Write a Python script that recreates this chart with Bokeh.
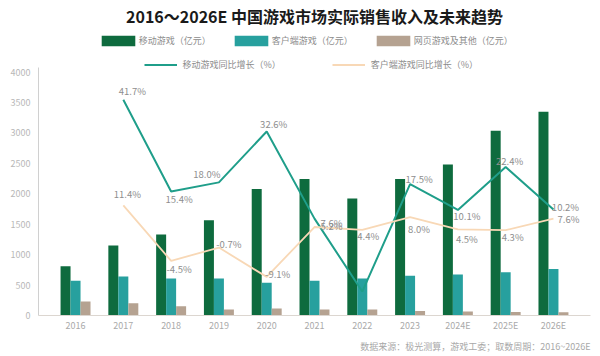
from bokeh.plotting import figure
from bokeh.models import (ColumnDataSource, FactorRange, Range1d, FixedTicker,
                          Legend, LegendItem, Title)
from bokeh.transform import dodge
from bokeh.core.properties import value
from bokeh.embed import file_html
from bokeh.resources import INLINE

# ---- data ----
years = ["2016", "2017", "2018", "2019", "2020", "2021", "2022", "2023", "2024E", "2025E", "2026E"]
mobile_rev = [810, 1150, 1330, 1565, 2080, 2245, 1925, 2245, 2480, 3035, 3350]
client_rev = [570, 640, 607, 607, 540, 570, 607, 655, 675, 712, 765]
web_rev = [230, 202, 153, 100, 115, 100, 100, 72, 66, 58, 52]

growth_years = years[1:]
mobile_growth = [41.7, 15.4, 18.0, 32.6, 7.6, -13.3, 17.5, 10.1, 22.4, 10.2]
client_growth = [11.4, -4.5, -0.7, -9.1, 5.2, 4.4, 8.0, 4.5, 4.3, 7.6]
mobile_growth_text = ["41.7%", "15.4%", "18.0%", "32.6%", "7.6%", "", "17.5%", "10.1%", "22.4%", "10.2%"]
client_growth_text = ["11.4%", "-4.5%", "-0.7%", "-9.1%", "5.2%", "4.4%", "8.0%", "4.5%", "4.3%", "7.6%"]
y_ticks = [0, 500, 1000, 1500, 2000, 2500, 3000, 3500, 4000]

# ---- label placement (style, screen px) ----
mobile_dx = [9, 8, -12, 7, 17, 0, 9, 9, 4, 12]
mobile_dy = [-9, 8, -8, -7, 4, 0, -5, 6, -6, -3]
client_dx = [4, 8, 10, 11, 17, 6, 9, 9, 7, 15]
client_dy = [-11, 8, -4, -3, -1, 6, 12, 10, 7, 0]

FONT = "Noto Sans CJK SC"
C_MOBILE = "#0e6b3e"
C_CLIENT = "#27a09e"
C_WEB = "#b5a291"
C_MLINE = "#1f9e8a"
C_CLINE = "#f8d8b6"

bar_src = ColumnDataSource(dict(year=years, mobile=mobile_rev, client=client_rev, web=web_rev))
m_src = ColumnDataSource(dict(year=growth_years, g=mobile_growth, t=mobile_growth_text,
                              dx=mobile_dx, dy=mobile_dy))
c_src = ColumnDataSource(dict(year=growth_years, g=client_growth, t=client_growth_text,
                              dx=client_dx, dy=client_dy))

frame_top = 28
frame_bottom = 316
px_per_unit = (316.5 - 72.3) / 4000.0
y_end = (frame_bottom - frame_top) / px_per_unit
zero_pct = 245.4
px_per_pct = 3.5

p = figure(width=600, height=356, output_backend="svg", toolbar_location=None,
           x_range=FactorRange(factors=years, range_padding=0.275, range_padding_units="absolute"),
           y_range=Range1d(0, y_end),
           min_border_left=38, min_border_right=10, min_border_top=frame_top,
           min_border_bottom=356 - frame_bottom)
p.extra_y_ranges = {"pct": Range1d(-(frame_bottom - zero_pct) / px_per_pct,
                                   (zero_pct - frame_top) / px_per_pct)}

p.title.text = "2016～2026E 中国游戏市场实际销售收入及未来趋势"
p.title.align = "center"
p.title.text_font = FONT
p.title.text_font_size = "16px"
p.title.text_font_style = "bold"
p.title.text_color = "#1a1a1a"
p.title.standoff = 2

p.outline_line_color = None
p.xgrid.grid_line_color = None
p.ygrid.grid_line_color = None
p.background_fill_color = "white"

w = 0.209
r_m = p.vbar(x=dodge("year", -w, range=p.x_range), top="mobile", width=w, source=bar_src,
             fill_color=C_MOBILE, line_color=None)
r_c = p.vbar(x=dodge("year", 0, range=p.x_range), top="client", width=w, source=bar_src,
             fill_color=C_CLIENT, line_color=None)
r_w = p.vbar(x=dodge("year", w, range=p.x_range), top="web", width=w, source=bar_src,
             fill_color=C_WEB, line_color=None)

l_m = p.line(x="year", y="g", source=m_src, y_range_name="pct", line_color=C_MLINE, line_width=2)
l_c = p.line(x="year", y="g", source=c_src, y_range_name="pct", line_color=C_CLINE, line_width=1.8)

for src in (m_src, c_src):
    p.text(x="year", y="g", text="t", source=src, y_range_name="pct",
           x_offset="dx", y_offset="dy", text_align="center", text_baseline="middle",
           text_font=value(FONT), text_font_size="9.5px", text_color="#8e8e8e")

# axes
yax = p.yaxis[0]
yax.ticker = FixedTicker(ticks=y_ticks)
yax.bounds = (0, 4080)
yax.axis_line_color = "#d0d0d0"
yax.major_tick_line_color = None
yax.minor_tick_line_color = None
yax.major_tick_out = 0
yax.major_tick_in = 0
yax.minor_tick_out = 0
yax.major_label_text_font = FONT
yax.major_label_text_font_size = "9px"
yax.major_label_text_color = "#b8b8b8"
yax.major_label_standoff = 8

xax = p.xaxis[0]
xax.axis_line_color = "#dcd6d0"
xax.major_tick_line_color = None
xax.minor_tick_line_color = None
xax.major_tick_out = 0
xax.major_tick_in = 0
xax.minor_tick_out = 0
xax.major_label_text_font = FONT
xax.major_label_text_font_size = "9px"
xax.major_label_text_color = "#aaaaaa"
xax.major_label_standoff = 3

# legends
leg1 = Legend(items=[LegendItem(label="移动游戏（亿元）", renderers=[r_m]),
                     LegendItem(label="客户端游戏（亿元）", renderers=[r_c]),
                     LegendItem(label="网页游戏及其他（亿元）", renderers=[r_w])],
              orientation="horizontal", location=(58.8, 268),
              glyph_width=42, glyph_height=13, label_height=13, label_standoff=0,
              spacing=19, padding=0, margin=0)
leg2 = Legend(items=[LegendItem(label="移动游戏同比增长（%）", renderers=[l_m]),
                     LegendItem(label="客户端游戏同比增长（%）", renderers=[l_c])],
              orientation="horizontal", location=(105.5, 243.8),
              glyph_width=33, glyph_height=13, label_height=13, label_standoff=6,
              spacing=51, padding=0, margin=0)
for lg in (leg1, leg2):
    lg.background_fill_alpha = 0
    lg.border_line_color = None
    lg.label_text_font = FONT
    lg.label_text_font_size = "9px"
    lg.label_text_color = "#8c8c8c"
    p.add_layout(lg, "center")

note = Title(text="数据来源：极光测算，游戏工委；取数周期：2016~2026E", align="right",
             text_font=FONT, text_font_size="9px", text_color="#a8a8a8",
             text_font_style="normal", offset=0, standoff=7)
p.add_layout(note, "below")

open("out.html", "w").write(file_html(p, INLINE))
